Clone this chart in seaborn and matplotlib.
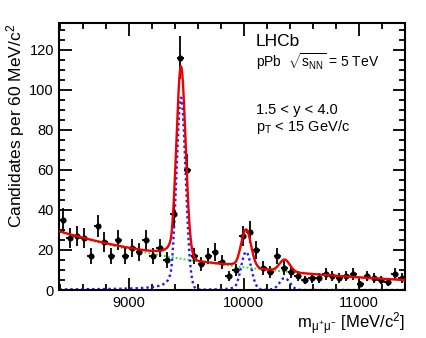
import numpy as np
import pandas as pd
import matplotlib
matplotlib.use("Agg")
import matplotlib.pyplot as plt
import seaborn as sns

# binned data, 60 MeV bins from 8400 to 11400
bin_lo = 8400
bin_width = 60
counts = [35, 26, 27, 26, 17, 32, 24, 17, 25, 17,
          21, 19, 25, 17, 21, 15, 38, 116, 60, 17,
          13, 17, 19, 14, 7, 10, 27, 29, 20, 11,
          9, 17, 11, 9, 7, 5, 6, 6, 8, 7,
          6, 7, 8, 3, 7, 6, 5, 4, 8, 6]

# fit parameters
peak_mass = [9455, 10020, 10355]
peak_sigma = [40, 43, 45]
peak_height = [96, 19, 6]
cb_alpha, cb_n = 2.0, 1.0
bkg_start, bkg_slope = 29.0, 5.86e-4

x_ticks = [9000, 10000, 11000]
y_ticks = [0, 20, 40, 60, 80, 100, 120]

sns.set_style("ticks")
plt.rcParams['font.family'] = ['Liberation Sans', 'DejaVu Sans']
plt.rcParams['mathtext.fontset'] = 'custom'
plt.rcParams['mathtext.rm'] = 'Liberation Sans'
plt.rcParams['mathtext.it'] = 'Liberation Sans'
plt.rcParams['mathtext.bf'] = 'Liberation Sans:bold'
for key in ['text.color', 'axes.labelcolor', 'xtick.color', 'ytick.color',
            'axes.edgecolor']:
    plt.rcParams[key] = 'black'

centers = bin_lo + bin_width * (np.arange(len(counts)) + 0.5)
counts = np.array(counts, dtype=float)
data = pd.DataFrame({"mass": centers, "n": counts})


def crystal_ball(x, m, s, h):
    t = (x - m) / s
    a = (cb_n / cb_alpha) ** cb_n * np.exp(-cb_alpha ** 2 / 2)
    b = cb_n / cb_alpha - cb_alpha
    core = np.exp(-0.5 * t ** 2)
    tail = a / np.abs(b - t) ** cb_n
    return h * np.where(t > -cb_alpha, core, tail)


mgrid = np.linspace(8400, 11400, 1500)
bkg = bkg_start * np.exp(-bkg_slope * (mgrid - 8400))
sig = sum(crystal_ball(mgrid, m, s, h)
          for m, s, h in zip(peak_mass, peak_sigma, peak_height))
curves = pd.DataFrame({"mass": mgrid, "bkg": bkg, "sig": sig, "tot": bkg + sig})

fig = plt.figure(figsize=(4.27, 3.38), dpi=100)
ax = fig.add_axes([59.5 / 427, 48 / 338, 345.5 / 427, 266.7 / 338])

sns.lineplot(data=curves, x="mass", y="bkg", ax=ax, color="#22dd22",
             lw=1.3, linestyle=(0, (1, 1.2)))
sns.lineplot(data=curves, x="mass", y="sig", ax=ax, color="#1a1aff",
             lw=1.7, linestyle=(0, (1, 1.3)))
ax.errorbar(data["mass"], data["n"], xerr=bin_width / 2, yerr=np.sqrt(counts),
            fmt="none", ecolor="black", elinewidth=1.3, capsize=0, zorder=4)
sns.scatterplot(data=data, x="mass", y="n", ax=ax, color="black", marker="o",
                s=16, edgecolor="black", zorder=5)
sns.lineplot(data=curves, x="mass", y="tot", ax=ax, color="#ee0000", lw=1.7,
             zorder=6)

ax.set_xlim(8400, 11400)
ax.set_ylim(0, 133.3)
ax.set_xticks(x_ticks)
ax.set_yticks(y_ticks)
ax.xaxis.set_minor_locator(matplotlib.ticker.MultipleLocator(200))
ax.yaxis.set_minor_locator(matplotlib.ticker.MultipleLocator(5))
ax.tick_params(which="both", direction="in", top=True, right=True,
               width=1.3, labelsize=10.5, pad=4)
ax.tick_params(which="major", length=9)
ax.tick_params(which="minor", length=4.5)
for sp in ax.spines.values():
    sp.set_linewidth(1.5)

ax.set_xlabel(r"m$_{\mu^{+}\mu^{-}}$ [MeV/c$^{2}$]", fontsize=12, loc="right")
ax.xaxis.set_label_coords(1.0, -0.075)
ax.set_ylabel(r"Candidates per 60 MeV/c$^{2}$", fontsize=12.5, loc="top")
ax.yaxis.set_label_coords(-0.093, 1.0)

fig.text(256 / 427, 1 - 42 / 338, "LHCb", fontsize=12.5, va="center")
fig.text(256 / 427, 1 - 62 / 338, r"pPb  $\sqrt{s_{NN}}$ = 5 TeV",
         fontsize=10, va="center")
fig.text(256 / 427, 1 - 110 / 338, "1.5 < y < 4.0", fontsize=10.5, va="center")
fig.text(256 / 427, 1 - 127 / 338, r"p$_{T}$ < 15 GeV/c", fontsize=10.5,
         va="center")

fig.savefig("out.png", dpi=100)
